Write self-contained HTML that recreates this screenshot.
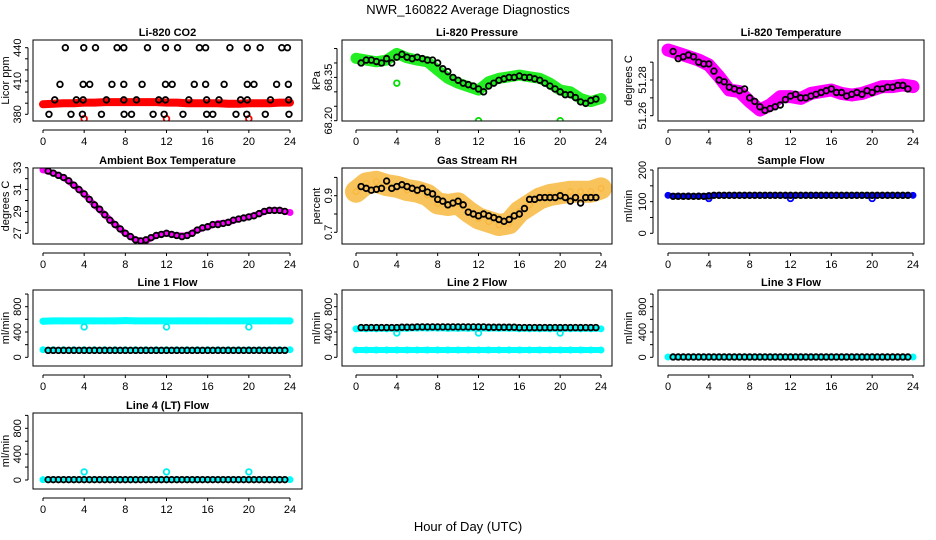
<!DOCTYPE html>
<html><head><meta charset="utf-8"><style>
body{margin:0;background:#fff}
svg{display:block;font-family:"Liberation Sans",sans-serif}
</style></head><body>
<svg id="c" width="936" height="540" viewBox="0 0 936 540">
<text x="468" y="14" text-anchor="middle" font-size="13">NWR_160822  Average Diagnostics</text>
<text x="468" y="531" text-anchor="middle" font-size="13">Hour of Day (UTC)</text>
</svg>
<script>
const HOURS=[0,1,2,3,4,5,6,7,8,9,10,11,12,13,14,15,16,17,18,19,20,21,22,23,24];
const XTICKS=[0,4,8,12,16,20,24];
const OUT_X=[4,12,20];
// CO2
const CO2_BLACK_X=[2.17,3.96,5.1,7.2,7.85,10.15,11.9,13.07,15.2,15.8,18.16,19.85,21.1,23.2,23.75,1.65,3.9,4.54,6.7,7.85,9.63,11.9,12.55,14.7,15.8,17.6,19.85,20.5,22.7,23.84,1.14,3.24,3.9,6.16,7.85,9.08,11.25,11.9,14.17,15.9,17.1,19.2,19.85,22.1,23.87,0.58,2.72,3.83,5.68,7.88,8.6,10.7,11.77,13.6,15.9,16.5,18.75,19.8,21.6,23.9];
const CO2_BLACK_Y=[440,440,440,440,440,440,440,440,440,440,440,440,440,440,440,407,407,407,407,407,407,407,407,407,407,407,407,407,407,407,393,393,393,393,393,393,393,393,393,393,393,393,393,393,393,380,380,380,380,380,380,380,380,380,380,380,380,380,380,380];
const CO2_RED=[389,389.5,390,390,390.5,390.5,391,391,391,391,391,391,390.5,390.5,390,390,390,390,389.5,389.5,390,390,390,390.5,390.5];
const CO2_RED_OUT=[376,376,376];
// Pressure
const PRES_GREEN=[68.416,68.41,68.404,68.41,68.433,68.418,68.41,68.404,68.375,68.347,68.33,68.318,68.306,68.335,68.347,68.352,68.358,68.352,68.347,68.33,68.306,68.30,68.277,68.266,68.277];
const PRES_GREEN_OUT=[68.33,68.20,68.20];
const PRES_BLACK=[68.40,68.41,68.41,68.405,68.40,68.415,68.40,68.42,68.43,68.42,68.415,68.42,68.415,68.41,68.41,68.40,68.38,68.37,68.35,68.34,68.33,68.325,68.32,68.31,68.30,68.32,68.33,68.34,68.345,68.35,68.35,68.355,68.35,68.35,68.345,68.34,68.33,68.32,68.31,68.30,68.29,68.29,68.28,68.265,68.26,68.27,68.275];
// Li-820 temperature
const TEMP_MAG=[51.2968,51.295,51.2931,51.2912,51.2884,51.2819,51.2744,51.2735,51.2679,51.2632,51.266,51.2707,51.2707,51.2697,51.2725,51.2735,51.2744,51.2725,51.2716,51.2725,51.2744,51.2763,51.2763,51.2772,51.2763];
const TEMP_BLACK=[51.296,51.292,51.293,51.294,51.293,51.29,51.289,51.289,51.285,51.28,51.279,51.276,51.275,51.274,51.275,51.27,51.268,51.265,51.263,51.264,51.265,51.266,51.269,51.271,51.272,51.270,51.270,51.271,51.272,51.273,51.274,51.275,51.273,51.273,51.271,51.272,51.273,51.272,51.274,51.273,51.275,51.275,51.276,51.276,51.277,51.277,51.275];
// Ambient
const AMB_MAG=[32.8,32.5,32.1,31.4,30.6,29.6,28.7,27.8,27.0,26.4,26.3,26.8,27.0,26.8,26.8,27.3,27.6,27.9,28.0,28.3,28.5,28.8,29.1,29.1,28.9];
const AMB_BLACK=[32.7,32.5,32.3,32.1,31.8,31.4,31.0,30.6,30.1,29.6,29.2,28.7,28.2,27.8,27.4,27.0,26.7,26.4,26.3,26.4,26.6,26.8,26.9,27.0,26.9,26.8,26.7,26.8,27.0,27.3,27.5,27.6,27.8,27.8,27.9,28.0,28.2,28.3,28.4,28.5,28.6,28.8,29.0,29.1,29.1,29.1,29.0];
// RH
const RH_ORANGE=[0.922,0.967,0.976,0.958,0.949,0.931,0.922,0.904,0.858,0.849,0.858,0.813,0.776,0.758,0.74,0.749,0.813,0.849,0.885,0.904,0.913,0.922,0.922,0.922,0.94];
const RH_BLACK=[0.95,0.94,0.93,0.935,0.94,0.98,0.94,0.95,0.96,0.95,0.94,0.93,0.94,0.92,0.91,0.88,0.87,0.85,0.86,0.87,0.85,0.81,0.80,0.79,0.80,0.79,0.78,0.77,0.76,0.77,0.79,0.80,0.83,0.88,0.88,0.89,0.89,0.89,0.89,0.90,0.89,0.87,0.89,0.86,0.89,0.89,0.89];
// Flows
const SAMPLE_BLUE=[120,118,118,118,119,120,120,120,120,120,120,120,120,120,120,120,120,120,120,120,120,120,120,120,120];
const SAMPLE_BLUE_OUT=[110,110,110];
const SAMPLE_BLACK=[117,117,117,117,117,117,117,118,120,120,120,120,120,120,120,120,120,120,120,120,120,120,120,120,120,120,120,120,120,120,120,120,120,120,120,120,120,120,120,120,120,120,120,120,120,120,120];
const L1_CYAN_HI=[570,575,575,575,575,575,575,575,580,575,575,575,575,575,575,575,575,575,575,575,575,575,575,575,575];
const L1_CYAN_LO=[120,120,120,120,120,120,120,120,120,120,120,120,120,120,120,120,120,120,120,120,120,120,120,120,120];
const L1_CYAN_OUT=[480,480,480];
const L1_BLACK=[110,110,110,110,110,110,110,110,110,110,110,110,110,110,110,110,110,110,110,110,110,110,110,110,110,110,110,110,110,110,110,110,110,110,110,110,110,110,110,110,110,110,110,110,110,110,110];
const L2_CYAN_HI=[450,450,450,450,450,455,460,460,460,455,455,455,455,455,455,455,450,450,450,450,450,450,450,450,450];
const L2_CYAN_LO=[115,115,115,115,115,115,115,115,115,115,115,115,115,115,115,115,115,115,115,115,115,115,115,115,115];
const L2_CYAN_OUT=[385,385,385];
const L2_BLACK=[470,470,470,470,470,470,470,470,475,475,475,480,480,480,480,480,480,480,480,480,480,480,480,480,480,475,475,475,475,475,475,470,470,470,470,470,470,470,470,470,470,470,470,470,470,470,470];
const L3_CYAN=[5,5,5,5,5,5,5,5,5,5,5,5,5,5,5,5,5,5,5,5,5,5,5,5,5];
const L3_BLACK=[5,5,5,5,5,5,5,5,5,5,5,5,5,5,5,5,5,5,5,5,5,5,5,5,5,5,5,5,5,5,5,5,5,5,5,5,5,5,5,5,5,5,5,5,5,5,5];
const L4_CYAN=[5,5,5,5,5,5,5,5,5,5,5,5,5,5,5,5,5,5,5,5,5,5,5,5,5];
const L4_CYAN_OUT=[125,125,125];
const L4_BLACK=[5,5,5,5,5,5,5,5,5,5,5,5,5,5,5,5,5,5,5,5,5,5,5,5,5,5,5,5,5,5,5,5,5,5,5,5,5,5,5,5,5,5,5,5,5,5,5];

const NS='http://www.w3.org/2000/svg';
const svg=document.getElementById('c');
function mk(tag,attrs,parent){const e=document.createElementNS(NS,tag);for(const k in attrs)e.setAttribute(k,attrs[k]);(parent||svg).appendChild(e);return e;}
function halfX(arr){return arr.map((_,i)=>0.5*(i+1));}

const COLS=[{bx0:33,bx1:302,x0:43,x1:290,ylx:9,ytx:21},{bx0:342,bx1:612,x0:356,x1:601,ylx:320,ytx:332},{bx0:658,bx1:924,x0:668,x1:913,ylx:632,ytx:646}];
const ROWS=[{by0:40,by1:121},{by0:168,by1:244},{by0:290,by1:366},{by0:413,by1:489}];
const FLOWT=[0,200,400,600,800,1000], FLOWL=[0,400,800];
const panels=[
 {c:0,r:0,name:'co2',title:'Li-820 CO2',ylab:'Licor ppm',v0:380,p0:114.3,v1:440,p1:47.7,ticks:[380,390,400,410,420,430,440],labels:[380,410,440],fmt:v=>v,
  series:[{band:HOURS,ys:CO2_RED,col:'#ff0000',w:8},{xs:OUT_X,ys:CO2_RED_OUT,col:'#ff0000'},{xs:CO2_BLACK_X,ys:CO2_BLACK_Y,col:'#000'}]},
 {c:1,r:0,name:'pressure',title:'Li-820 Pressure',ylab:'kPa',v0:68.2,p0:120.7,v1:68.35,p1:77.4,ticks:[68.2,68.25,68.3,68.35,68.4,68.45],labels:[68.2,68.35],fmt:v=>v.toFixed(2),
  series:[{band:HOURS,ys:PRES_GREEN,col:'#22ee22',w:11},{xs:OUT_X,ys:PRES_GREEN_OUT,col:'#00dd00'},{xs:halfX(PRES_BLACK),ys:PRES_BLACK,col:'#000'}]},
 {c:2,r:0,name:'li820-temp',title:'Li-820 Temperature',ylab:'degrees C',v0:51.26,p0:115.7,v1:51.28,p1:80,ticks:[51.26,51.27,51.28,51.29],labels:[51.26,51.28],fmt:v=>v.toFixed(2),
  series:[{band:HOURS,ys:TEMP_MAG,col:'#ff00ff',w:13},{xs:halfX(TEMP_BLACK),ys:TEMP_BLACK,col:'#000'}]},
 {c:0,r:1,name:'ambient-temp',title:'Ambient Box Temperature',ylab:'degrees C',v0:27,p0:233.3,v1:33,p1:167.7,ticks:[27,28,29,30,31,32,33],labels:[27,29,31,33],fmt:v=>v,
  series:[{band:HOURS,ys:AMB_MAG,col:'#ff00ff',w:6},{xs:halfX(AMB_BLACK),ys:AMB_BLACK,col:'#000'}]},
 {c:1,r:1,name:'rh',title:'Gas Stream RH',ylab:'percent',v0:0.7,p0:232.3,v1:0.9,p1:195.7,ticks:[0.7,0.8,0.9,1.0],labels:[0.7,0.9],fmt:v=>v,
  series:[{band:HOURS,ys:RH_ORANGE,col:'#f8b840',w:22,op:0.85},{xs:halfX(RH_BLACK),ys:RH_BLACK,col:'#000'}]},
 {c:2,r:1,name:'sample-flow',title:'Sample Flow',ylab:'ml/min',v0:0,p0:233.3,v1:200,p1:170,ticks:[0,50,100,150,200],labels:[0,100,200],fmt:v=>v,
  series:[{band:HOURS,ys:SAMPLE_BLUE,col:'#0000ff',w:5},{xs:OUT_X,ys:SAMPLE_BLUE_OUT,col:'#0000ff'},{xs:halfX(SAMPLE_BLACK),ys:SAMPLE_BLACK,col:'#000'}]},
 {c:0,r:2,name:'line1-flow',title:'Line 1 Flow',ylab:'ml/min',v0:0,p0:357.3,v1:800,p1:306.7,ticks:FLOWT,labels:FLOWL,fmt:v=>v,
  series:[{band:HOURS,ys:L1_CYAN_HI,col:'#00ffff',w:7},{band:HOURS,ys:L1_CYAN_LO,col:'#00ffff',w:5},{xs:OUT_X,ys:L1_CYAN_OUT,col:'#00eeee'},{xs:halfX(L1_BLACK),ys:L1_BLACK,col:'#000'}]},
 {c:1,r:2,name:'line2-flow',title:'Line 2 Flow',ylab:'ml/min',v0:0,p0:357.3,v1:800,p1:306.7,ticks:FLOWT,labels:FLOWL,fmt:v=>v,
  series:[{band:HOURS,ys:L2_CYAN_HI,col:'#00ffff',w:6},{band:HOURS,ys:L2_CYAN_LO,col:'#00ffff',w:6},{xs:OUT_X,ys:L2_CYAN_OUT,col:'#00eeee'},{xs:halfX(L2_BLACK),ys:L2_BLACK,col:'#000'}]},
 {c:2,r:2,name:'line3-flow',title:'Line 3 Flow',ylab:'ml/min',v0:0,p0:357.3,v1:800,p1:306.7,ticks:FLOWT,labels:FLOWL,fmt:v=>v,
  series:[{band:HOURS,ys:L3_CYAN,col:'#00ffff',w:5},{xs:halfX(L3_BLACK),ys:L3_BLACK,col:'#000'}]},
 {c:0,r:3,name:'line4-flow',title:'Line 4 (LT) Flow',ylab:'ml/min',v0:0,p0:480,v1:800,p1:428.3,ticks:FLOWT,labels:FLOWL,fmt:v=>v,
  series:[{band:HOURS,ys:L4_CYAN,col:'#00ffff',w:5},{xs:OUT_X,ys:L4_CYAN_OUT,col:'#00eeee'},{xs:halfX(L4_BLACK),ys:L4_BLACK,col:'#000'}]}
];

panels.forEach(p=>{
  const C=COLS[p.c],R=ROWS[p.r];
  const g=mk('g',{});
  
  
  const xs=h=>C.x0+(C.x1-C.x0)*h/24;
  const ys=v=>p.p0+(p.p1-p.p0)*(v-p.v0)/(p.v1-p.v0);
  const cx=(C.bx0+C.bx1)/2;
  const t=mk('text',{x:cx,y:R.by0-4,'text-anchor':'middle','font-size':11,'font-weight':'bold'},g);
  t.textContent=p.title;
  
  
  const clip=mk('clipPath',{id:'cl'+p.name},g);
  mk('rect',{x:C.bx0,y:R.by0,width:C.bx1-C.bx0,height:R.by1-R.by0},clip);
  const pg=mk('g',{'clip-path':'url(#cl'+p.name+')'},g);
  p.series.forEach(s=>{
    if(s.band){
      const pts=s.band.map((h,i)=>xs(h).toFixed(1)+','+ys(s.ys[i]).toFixed(1)).join(' ');
      const pl=mk('polyline',{points:pts,fill:'none',stroke:s.col,'stroke-width':s.w,'stroke-linejoin':'round','stroke-linecap':'round','stroke-opacity':s.op||1},pg);
      
      
      s.band.forEach((h,i)=>{
        const c=mk('circle',{cx:xs(h),cy:ys(s.ys[i]),r:2.8,fill:'none',stroke:s.col,'stroke-width':1.4},pg);
        
        
      });
    } else {
      s.xs.forEach((h,i)=>{
        const c=mk('circle',{cx:xs(h),cy:ys(s.ys[i]),r:2.8,fill:'none',stroke:s.col,'stroke-width':1.8},pg);
        
        
      });
    }
  });
  const box=mk('rect',{x:C.bx0,y:R.by0,width:C.bx1-C.bx0,height:R.by1-R.by0,fill:'none',stroke:'#000','stroke-width':1},g);
  
  
  const ay=R.by1+9;
  mk('line',{x1:xs(0),x2:xs(24),y1:ay,y2:ay,stroke:'#000'},g);
  XTICKS.forEach(h=>{
    mk('line',{x1:xs(h),x2:xs(h),y1:ay,y2:ay+3,stroke:'#000'},g);
    const tl=mk('text',{x:xs(h),y:ay+15,'text-anchor':'middle','font-size':11},g);
    tl.textContent=h;
    
    
  });
  const ax=C.bx0-5;
  const tp=p.ticks.map(ys);
  mk('line',{x1:ax,x2:ax,y1:Math.min(...tp),y2:Math.max(...tp),stroke:'#000'},g);
  p.ticks.forEach(v=>mk('line',{x1:ax-3,x2:ax,y1:ys(v),y2:ys(v),stroke:'#000'},g));
  p.labels.forEach(v=>{
    const y=ys(v);
    const tl=mk('text',{x:C.ytx,y:y,'text-anchor':'middle','font-size':11,transform:`rotate(-90 ${C.ytx} ${y})`},g);
    tl.textContent=p.fmt(v);
    
    
  });
  const ym=(R.by0+R.by1)/2;
  const yl=mk('text',{x:C.ylx,y:ym,'text-anchor':'middle','font-size':11,transform:`rotate(-90 ${C.ylx} ${ym})`},g);
  yl.textContent=p.ylab;
  
  
});
</script>
</body></html>
